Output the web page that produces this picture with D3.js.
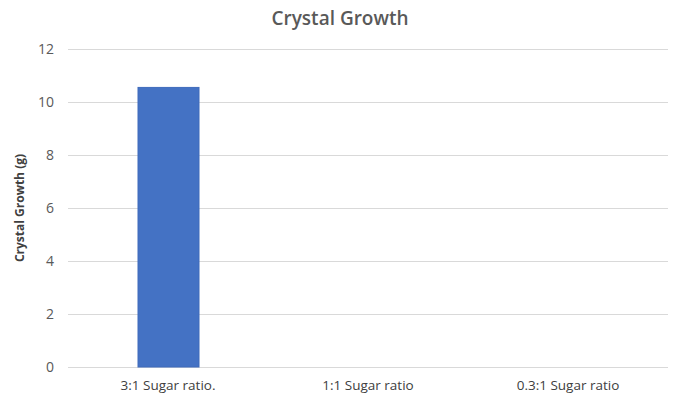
<!DOCTYPE html>
<meta charset="utf-8">
<style>
body { margin: 0; background: #fff; }
text { font-family: "Open Sans", "Liberation Sans", sans-serif; fill: #595959; }
.grid line { stroke: #d9d9d9; stroke-width: 1px; }
</style>
<body>
<script src="https://cdn.jsdelivr.net/npm/d3@7"></script>
<script>
// chart data
var categories = ["3:1 Sugar ratio.", "1:1 Sugar ratio", "0.3:1 Sugar ratio"];
var growth = [10.55, 0, 0];
var yTicks = [0, 2, 4, 6, 8, 10, 12];

var width = 680, height = 401;
var margin = {top: 49, right: 12, bottom: 34, left: 68};

var svg = d3.select("body").append("svg")
    .attr("width", width)
    .attr("height", height);

var x = d3.scaleBand()
    .domain(categories)
    .range([margin.left, width - margin.right])
    .paddingInner(0.69)
    .paddingOuter(0.345);

var y = d3.scaleLinear()
    .domain([0, 12])
    .range([height - margin.bottom, margin.top]);

// gridlines
svg.append("g").attr("class", "grid")
  .selectAll("line")
  .data(yTicks)
  .enter().append("line")
    .attr("x1", margin.left)
    .attr("x2", width - margin.right)
    .attr("y1", d => Math.round(y(d)) + 0.5)
    .attr("y2", d => Math.round(y(d)) + 0.5);

// y tick labels
svg.append("g")
  .selectAll("text")
  .data(yTicks)
  .enter().append("text")
    .attr("x", margin.left - 14)
    .attr("y", d => y(d))
    .attr("dy", "0.35em")
    .attr("text-anchor", "end")
    .style("font-size", "14px")
    .text(d => d);

// bars
svg.append("g")
  .selectAll("rect")
  .data(growth)
  .enter().append("rect")
    .attr("x", (d, i) => x(categories[i]) + 1)
    .attr("width", x.bandwidth() - 1)
    .attr("y", d => y(d))
    .attr("height", d => y(0) - y(d))
    .attr("fill", "#4472c4")
    .attr("stroke", "#3f6bbb")
    .attr("stroke-width", 1);

// category labels
svg.append("g")
  .selectAll("text")
  .data(categories)
  .enter().append("text")
    .attr("x", d => x(d) + x.bandwidth() / 2)
    .attr("y", height - margin.bottom + 23)
    .attr("text-anchor", "middle")
    .style("font-size", "13.5px")
    .style("fill", "#404040")
    .text(d => d);

// title
svg.append("text")
    .attr("x", 340)
    .attr("y", 25)
    .attr("text-anchor", "middle")
    .style("font-size", "19px")
    .style("font-weight", "600")
    .text("Crystal Growth");

// y axis title
svg.append("text")
    .attr("transform", "translate(24," + ((margin.top + height - margin.bottom) / 2) + ") rotate(-90)")
    .attr("text-anchor", "middle")
    .style("font-size", "12px")
    .style("font-weight", "bold")
    .style("fill", "#404040")
    .text("Crystal Growth (g)");
</script>
</body>
